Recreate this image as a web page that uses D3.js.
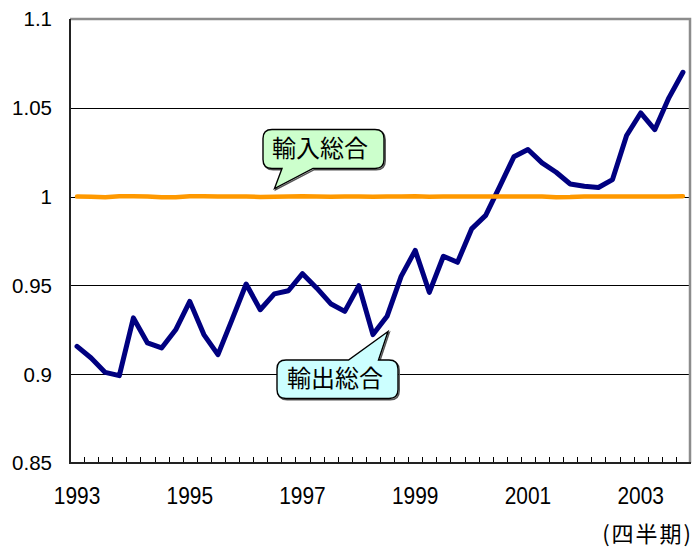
<!DOCTYPE html>
<html><head><meta charset="utf-8">
<script src="https://cdn.jsdelivr.net/npm/d3@7"></script>
<style>html,body{margin:0;padding:0;background:#fff;} svg{display:block;}</style>
</head><body>
<svg id="c" width="697" height="547"></svg>
<script>
const categories = [
 "1993Q1","1993Q2","1993Q3","1993Q4","1994Q1","1994Q2","1994Q3","1994Q4",
 "1995Q1","1995Q2","1995Q3","1995Q4","1996Q1","1996Q2","1996Q3","1996Q4",
 "1997Q1","1997Q2","1997Q3","1997Q4","1998Q1","1998Q2","1998Q3","1998Q4",
 "1999Q1","1999Q2","1999Q3","1999Q4","2000Q1","2000Q2","2000Q3","2000Q4",
 "2001Q1","2001Q2","2001Q3","2001Q4","2002Q1","2002Q2","2002Q3","2002Q4",
 "2003Q1","2003Q2","2003Q3","2003Q4"];
const exportValues = [
 0.9157,0.9091,0.9010,0.8992,0.9317,0.9176,0.9148,0.9250,
 0.9410,0.9223,0.9110,0.9307,0.9508,0.9363,0.9452,0.9470,
 0.9566,0.9486,0.9397,0.9354,0.9499,0.9223,0.9326,0.9551,
 0.9697,0.9461,0.9664,0.9630,0.9818,0.9894,1.0058,1.0224,
 1.0265,1.0190,1.0137,1.0071,1.0058,1.0051,1.0096,1.0344,
 1.0471,1.0377,1.0556,1.0700];
const importValues = [
 1.0000,0.9999,0.9996,1.0002,1.0002,1.0001,0.9996,0.9997,
 1.0002,1.0002,1.0000,1.0000,1.0001,0.9998,0.9999,1.0001,
 1.0002,1.0000,0.9999,1.0001,1.0000,0.9999,1.0001,1.0000,
 1.0002,0.9999,1.0001,1.0001,1.0000,1.0001,1.0000,1.0001,
 1.0001,1.0000,0.9997,0.9998,1.0001,1.0001,1.0000,1.0001,
 1.0000,1.0000,1.0000,1.0002];
const yTicks = [0.85,0.9,0.95,1,1.05,1.1];
const yTickLabels = ["0.85","0.9","0.95","1","1.05","1.1"];
const xTickCats = ["1993Q1","1995Q1","1997Q1","1999Q1","2001Q1","2003Q1"];
const xTickLabels = ["1993","1995","1997","1999","2001","2003"];
const seriesNames = ["輸出総合","輸入総合"];
const unitLabel = "(四半期)";

const L=70,R=690,T=19,B=463;
const svg=d3.select("#c");
const x=d3.scaleBand().domain(categories).range([L,R]).padding(0);
const bw=x.bandwidth();
const y=d3.scaleLinear().domain([0.85,1.1]).range([B,T]);
const cx = c => x(c)+bw/2;

// gridlines
svg.append("g").selectAll("line").data(yTicks.filter(v=>v>0.85&&v<1.1)).join("line")
  .attr("x1",L).attr("x2",R)
  .attr("y1",d=>Math.round(y(d))+0.5).attr("y2",d=>Math.round(y(d))+0.5)
  .attr("stroke","#000").attr("stroke-width",1);

// plot border (gray top/right)
svg.append("path").attr("d",`M${L},${T} H${R} V${B}`)
  .attr("fill","none").attr("stroke","#8c8c8c").attr("stroke-width",2.5);

// minor x ticks at category boundaries
svg.append("g").selectAll("line").data(categories.slice(1)).join("line")
  .attr("x1",d=>Math.round(x(d))+0.5).attr("x2",d=>Math.round(x(d))+0.5)
  .attr("y1",B).attr("y2",B-6).attr("stroke","#000").attr("stroke-width",1);

// axes lines
svg.append("line").attr("x1",L).attr("x2",L).attr("y1",T).attr("y2",B+1)
  .attr("stroke","#222").attr("stroke-width",2);
svg.append("line").attr("x1",L-1).attr("x2",R+1).attr("y1",B).attr("y2",B)
  .attr("stroke","#222").attr("stroke-width",2);

// y labels
svg.append("g").selectAll("text").data(yTicks).join("text")
  .attr("x",52).attr("y",d=>y(d)).attr("dy","0.36em")
  .attr("text-anchor","end")
  .style("font-family","'Liberation Sans', Arial, sans-serif").style("font-size","20.5px")
  .attr("fill","#000").text((d,i)=>yTickLabels[i]);

// x labels
svg.append("g").selectAll("text").data(xTickCats).join("text")
  .attr("transform",d=>`translate(${cx(d)},504) scale(0.89,1)`)
  .attr("text-anchor","middle")
  .style("font-family","'Liberation Sans', Arial, sans-serif").style("font-size","23.5px")
  .attr("fill","#000").text((d,i)=>xTickLabels[i]);

// unit label
svg.append("text").attr("x",693).attr("y",532).attr("text-anchor","end")
  .attr("dominant-baseline","central")
  .style("font-family","'Noto Sans CJK JP', sans-serif").style("font-size","22px")
  .style("letter-spacing","2px")
  .attr("fill","#000").text(unitLabel);

// lines
const line=d3.line().x((d,i)=>cx(categories[i])).y(d=>y(d));
svg.append("path").datum(exportValues).attr("d",line)
  .attr("fill","none").attr("stroke","#000080").attr("stroke-width",5)
  .attr("stroke-linejoin","round").attr("stroke-linecap","round");
svg.append("path").datum(importValues).attr("d",line)
  .attr("fill","none").attr("stroke","#FF9900").attr("stroke-width",4.5)
  .attr("stroke-linejoin","round").attr("stroke-linecap","round");

// callouts
function calloutBottomTail(x0,y0,x1,y1,r,ta,tb,px,py){
  return `M${x0+r},${y0} H${x1-r} Q${x1},${y0} ${x1},${y0+r} V${y1-r} Q${x1},${y1} ${x1-r},${y1} H${tb} L${px},${py} L${ta},${y1} H${x0+r} Q${x0},${y1} ${x0},${y1-r} V${y0+r} Q${x0},${y0} ${x0+r},${y0} Z`;
}
function calloutTopTail(x0,y0,x1,y1,r,ta,tb,px,py){
  return `M${x0+r},${y0} H${ta} L${px},${py} L${tb},${y0} H${x1-r} Q${x1},${y0} ${x1},${y0+r} V${y1-r} Q${x1},${y1} ${x1-r},${y1} H${x0+r} Q${x0},${y1} ${x0},${y1-r} V${y0+r} Q${x0},${y0} ${x0+r},${y0} Z`;
}
const callouts=[
  {d:calloutBottomTail(263,129.5,384,168.5,9,282,313,274.5,188.5), fill:"#CCFFCC", tx:320, ty:146, text:seriesNames[1]},
  {d:calloutTopTail(277,360,398,398.5,9,348.5,378.5,388,331.5), fill:"#CCFFFF", tx:335, ty:376, text:seriesNames[0]}
];
callouts.forEach(c=>{
  svg.append("path").attr("d",c.d).attr("transform","translate(1.2,1.2)")
    .attr("fill","none").attr("stroke","#555").attr("stroke-width",1.5);
  svg.append("path").attr("d",c.d).attr("fill",c.fill).attr("stroke","#000").attr("stroke-width",1.4);
  svg.append("text").attr("x",c.tx).attr("y",c.ty).attr("text-anchor","middle")
    .attr("dominant-baseline","central")
    .style("font-family","'Noto Sans CJK JP', sans-serif").style("font-size","24px")
    .attr("fill","#000").text(c.text);
});
</script>
</body></html>
